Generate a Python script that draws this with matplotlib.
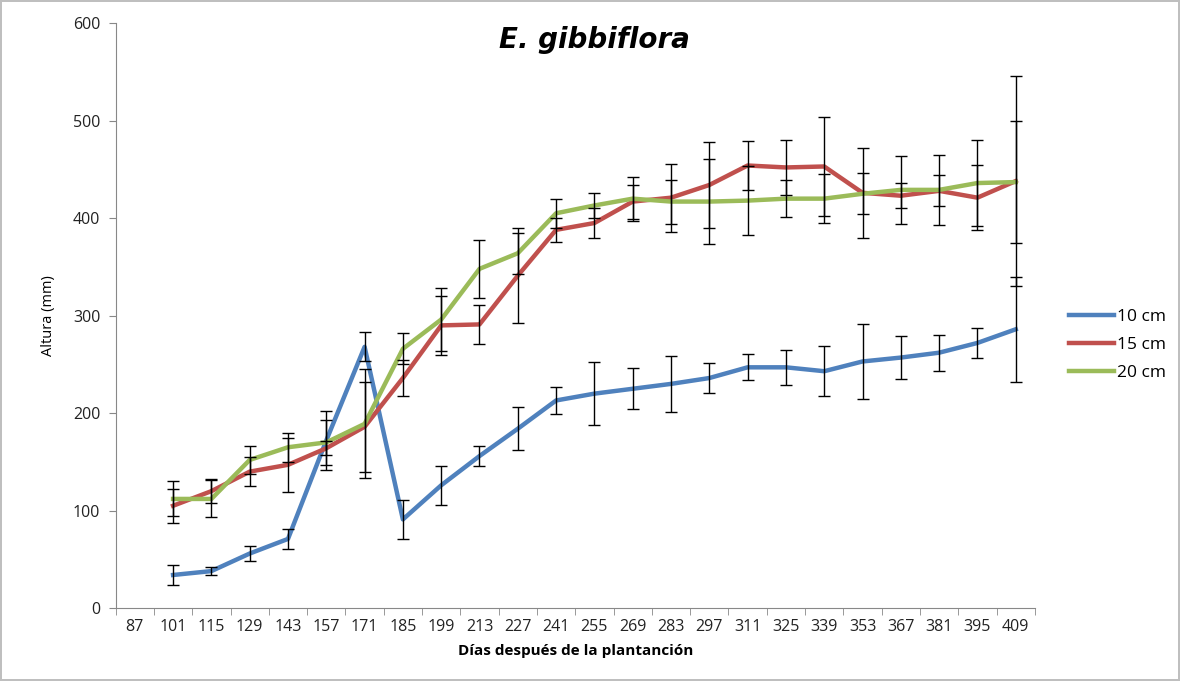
import numpy as np
import matplotlib.pyplot as plt
from matplotlib.ticker import FixedLocator

dias = [87, 101, 115, 129, 143, 157, 171, 185, 199, 213, 227, 241, 255, 269,
        283, 297, 311, 325, 339, 353, 367, 381, 395, 409]
nan = np.nan
h10 = [nan, 34, 38, 56, 71, 172, 268, 91, 126, 156, 184, 213, 220, 225, 230,
       236, 247, 247, 243, 253, 257, 262, 272, 286]
e10 = [nan, 10, 4, 8, 10, 30, 15, 20, 20, 10, 22, 14, 32, 21, 29, 15, 13.5, 18,
       25.5, 38, 22, 18.5, 15.5, 54]
h15 = [nan, 105, 120, 140, 147, 164, 186, 236, 290, 291, 341, 388, 395, 417,
       421, 434, 454, 452, 453, 426, 423, 428, 421, 438]
e15 = [nan, 17.5, 12, 15, 28, 7, 46, 18, 30, 20, 49, 12, 15, 17.5, 35, 44, 25,
       28, 51, 46, 13, 16, 33.5, 108]
h20 = [nan, 112, 112, 152, 165, 170, 189, 266, 296, 348, 364, 405, 413, 420,
       417, 417, 418, 420, 420, 425, 429, 429, 436, 437]
e20 = [nan, 18, 19, 14, 15, 23, 56, 16, 32, 30, 21, 15, 13, 22.5, 22.5, 44,
       35.5, 19, 25, 21, 34.5, 36, 44, 63]

series = [("10 cm", h10, e10, "#4F81BD"),
          ("15 cm", h15, e15, "#C0504D"),
          ("20 cm", h20, e20, "#9BBB59")]

plt.rcParams['font.family'] = ['Open Sans', 'DejaVu Sans']

fig = plt.figure(figsize=(11.8, 6.81), dpi=100)
fig.patch.set_edgecolor('#bfbfbf')
fig.patch.set_linewidth(1.5)
ax = fig.add_axes([0.098, 0.107, 0.779, 0.859])

x = np.arange(len(dias))
for name, h, e, c in series:
    ax.plot(x, h, color=c, lw=3.2, label=name, zorder=2)
for name, h, e, c in series:
    ax.errorbar(x, h, yerr=e, fmt='none', ecolor='black', elinewidth=1,
                capsize=4, capthick=1, zorder=3)

ax.set_xlim(-0.5, len(dias) - 0.5)
ax.set_ylim(0, 600)
ax.set_yticks(range(0, 601, 100))
ax.set_xticks(x)
ax.set_xticklabels([str(d) for d in dias])
ax.xaxis.set_minor_locator(FixedLocator(np.arange(-0.5, len(dias), 1)))
ax.tick_params(axis='x', which='major', length=0, labelsize=11.5, pad=8,
               colors='#222222')
ax.tick_params(axis='x', which='minor', length=5, color='#888888')
ax.tick_params(axis='y', length=5, color='#888888', labelsize=11.5,
               labelcolor='#222222', pad=6)
for s in ['top', 'right']:
    ax.spines[s].set_visible(False)
for s in ['left', 'bottom']:
    ax.spines[s].set_color('#888888')

ax.text(0.521, 0.995, "E. gibbiflora", transform=ax.transAxes, ha='center',
        va='top', fontsize=20, fontweight='bold', style='italic',
        family='DejaVu Sans')
ax.set_ylabel("Altura (mm)", fontsize=10.5, labelpad=12)
ax.set_xlabel("Días después de la plantanción", fontsize=11, fontweight='bold',
              labelpad=6)

ax.legend(loc='center left', bbox_to_anchor=(1.02, 0.45), frameon=False,
          fontsize=12.5, handlelength=2.6, handletextpad=0.2, labelspacing=0.7)

fig.savefig("out.png", dpi=100)
